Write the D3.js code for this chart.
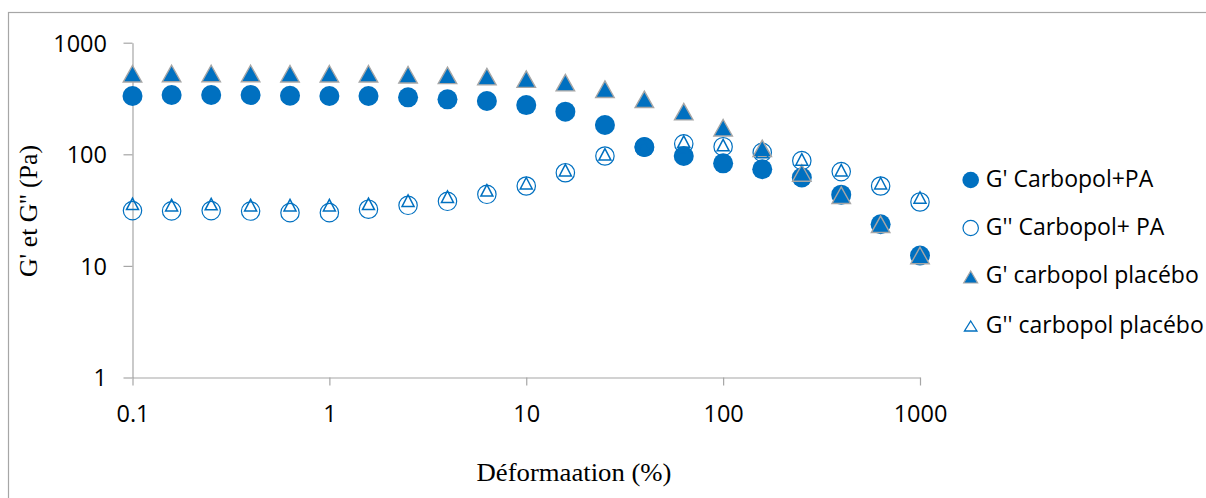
<!DOCTYPE html>
<html>
  <head>
    <meta charset="utf-8">
    <title>G' et G'' vs déformation</title>
    <style>
      body { margin: 0; background-color: white; }
      svg { display: block; }
    </style>
    <script src="https://d3js.org/d3.v7.min.js"></script>
  </head>
  <body>
    <svg></svg>
    <script>
      // deformation (%) - 5 points per decade
      var strain = [0.1, 0.158, 0.251, 0.398, 0.631, 1, 1.58, 2.51, 3.98, 6.31,
                    10, 15.8, 25.1, 39.8, 63.1, 100, 158, 251, 398, 631, 1000];
      var gPrimePA = [333, 340, 340, 340, 335, 333, 333, 324, 311, 300,
                      276, 241, 183, 116, 96.6, 83, 73.4, 62, 43.5, 23.6, 12.4];
      var gSecondPA = [31.3, 31.1, 31.3, 31.0, 30.0, 30.0, 32.2, 34.9, 37.9, 43.8,
                       52, 68.4, 96.6, 116, 124, 117, 104, 87.7, 70, 52, 37.4];
      var gPrimePlacebo = [527, 530, 530, 530, 527, 527, 527, 516, 510, 497,
                           472, 439, 383, 311, 241, 173, 113, 68, 43, 23.6, 12.4];
      var gSecondPlacebo = [36, 35, 35.8, 35, 35, 35, 36, 38.4, 41.7, 47.6,
                            55, 72, 100, 118, 130, 121, 105, 90, 72, 55, 41];
      var seriesNames = ["G' Carbopol+PA", "G'' Carbopol+ PA", "G' carbopol placébo", "G'' carbopol placébo"];
      var xTicks = [0.1, 1, 10, 100, 1000];
      var xTickLabels = ["0.1", "1", "10", "100", "1000"];
      var yTicks = [1, 10, 100, 1000];
      var yTickLabels = ["1", "10", "100", "1000"];

      var width = 1206, height = 498;
      var blue = "#0070C0";

      var svg = d3.select("svg").attr("width", width).attr("height", height);

      // outer chart frame (cut by the window on the right and bottom)
      svg.append("rect")
        .attr("x", 8.5).attr("y", 12.5)
        .attr("width", 1300).attr("height", 600)
        .attr("fill", "white")
        .attr("stroke", "#a6a6a6")
        .attr("stroke-width", 1.2);

      var x = d3.scaleLog().domain([0.1, 1000]).range([132.5, 920]);
      var y = d3.scaleLog().domain([1, 1000]).range([377.5, 42.7]);

      var sans = "'Open Sans', sans-serif";
      var serif = "'Liberation Serif', 'Times New Roman', serif";

      // axes
      var xAxis = svg.append("g")
        .attr("transform", "translate(0,377.5)")
        .call(d3.axisBottom(x).tickValues(xTicks).tickSize(8).tickSizeOuter(0)
          .tickFormat(function(d, i) { return xTickLabels[i]; }));
      var yAxis = svg.append("g")
        .attr("transform", "translate(132.5,0)")
        .call(d3.axisLeft(y).tickValues(yTicks).tickSize(9).tickSizeOuter(0)
          .tickFormat(function(d, i) { return yTickLabels[i]; }));

      [xAxis, yAxis].forEach(function(a) {
        a.select(".domain").attr("stroke", "#a6a6a6").attr("stroke-width", 1.2);
        a.selectAll(".tick line").attr("stroke", "#a6a6a6").attr("stroke-width", 1.2);
        a.selectAll(".tick text")
          .attr("fill", "#000")
          .style("font-family", sans)
          .style("font-size", "23.5px");
      });
      xAxis.selectAll(".tick text").attr("y", 0).attr("dy", null).attr("transform", "translate(0,44.2)");
      yAxis.selectAll(".tick text").attr("x", -25.5).attr("dy", null).attr("transform", "translate(0,8.4)");

      // axis titles
      svg.append("text")
        .attr("x", 574).attr("y", 480.7)
        .attr("text-anchor", "middle")
        .attr("textLength", 195)
        .attr("lengthAdjust", "spacingAndGlyphs")
        .style("font-family", serif)
        .style("font-size", "25px")
        .text("Déformaation (%)");
      svg.append("text")
        .attr("transform", "translate(37,211) rotate(-90)")
        .attr("text-anchor", "middle")
        .attr("textLength", 132)
        .attr("lengthAdjust", "spacingAndGlyphs")
        .style("font-family", serif)
        .style("font-size", "25.5px")
        .text("G' et G'' (Pa)");

      function triPath(w, h) {
        return "M0," + (-h / 2) + "L" + (w / 2) + "," + (h / 2) + "L" + (-w / 2) + "," + (h / 2) + "Z";
      }

      var points = strain.map(function(s, i) {
        return { s: s, a: gPrimePA[i], b: gSecondPA[i], c: gPrimePlacebo[i], d: gSecondPlacebo[i] };
      });

      var plot = svg.append("g");

      plot.selectAll("circle.gp").data(points).enter().append("circle")
        .attr("class", "gp")
        .attr("cx", function(d) { return x(d.s); })
        .attr("cy", function(d) { return y(d.a); })
        .attr("r", 10)
        .attr("fill", blue);

      plot.selectAll("circle.gs").data(points).enter().append("circle")
        .attr("class", "gs")
        .attr("cx", function(d) { return x(d.s); })
        .attr("cy", function(d) { return y(d.b); })
        .attr("r", 9.2)
        .attr("fill", "none")
        .attr("stroke", blue)
        .attr("stroke-width", 1.2);

      plot.selectAll("path.tp").data(points).enter().append("path")
        .attr("class", "tp")
        .attr("transform", function(d) { return "translate(" + x(d.s) + "," + y(d.c) + ")"; })
        .attr("d", triPath(18.5, 16.5))
        .attr("fill", blue)
        .attr("stroke", "#a6a6a6")
        .attr("stroke-width", 1.4);

      plot.selectAll("path.ts").data(points).enter().append("path")
        .attr("class", "ts")
        .attr("transform", function(d) { return "translate(" + x(d.s) + "," + y(d.d) + ")"; })
        .attr("d", triPath(12, 11.5))
        .attr("fill", "none")
        .attr("stroke", blue)
        .attr("stroke-width", 1.5);

      // legend
      var legendRows = [180, 228, 277, 326];
      var legend = svg.append("g");
      legend.append("circle").attr("cx", 970.7).attr("cy", legendRows[0]).attr("r", 8.3).attr("fill", blue);
      legend.append("circle").attr("cx", 970.7).attr("cy", legendRows[1]).attr("r", 7.7)
        .attr("fill", "none").attr("stroke", blue).attr("stroke-width", 1.2);
      legend.append("path").attr("transform", "translate(970.7," + legendRows[2] + ")")
        .attr("d", triPath(14, 12)).attr("fill", blue).attr("stroke", "#a6a6a6").attr("stroke-width", 1.2);
      legend.append("path").attr("transform", "translate(970.7," + legendRows[3] + ")")
        .attr("d", triPath(12.5, 10)).attr("fill", "none").attr("stroke", blue).attr("stroke-width", 1.3);

      legend.selectAll("text").data(seriesNames).enter().append("text")
        .attr("x", 985.7)
        .attr("y", function(d, i) { return [186.7, 235, 283.3, 333.3][i]; })
        .style("font-family", sans)
        .style("font-size", "23px")
        .attr("fill", "#000")
        .text(function(d) { return d; });
    </script>
  </body>
</html>
